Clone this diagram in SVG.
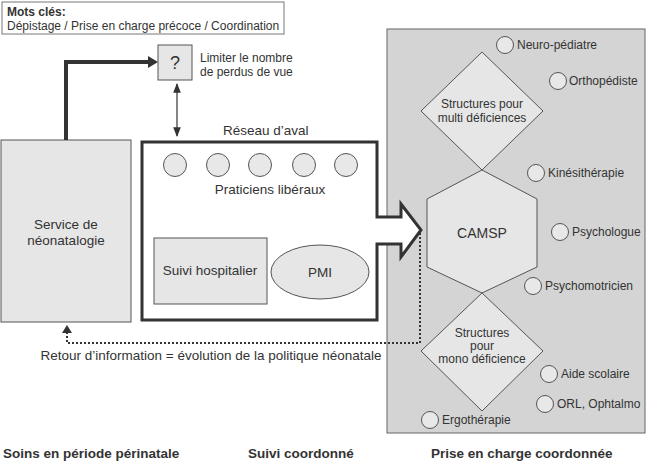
<svg xmlns="http://www.w3.org/2000/svg" width="648" height="463" viewBox="0 0 648 463">
<style>
text{font-family:"Liberation Sans",Arial,sans-serif;fill:#333;font-size:12px}
.c{text-anchor:middle}
.b{font-weight:bold}
.m{font-size:13.5px}
.shape{fill:#e6e6e6;stroke:#555;stroke-width:1}
.circ{fill:#e8e8e8;stroke:#555;stroke-width:1}
</style>
<defs>
<marker id="ahs" viewBox="0 0 10 10" refX="9" refY="5" markerWidth="8" markerHeight="8" orient="auto-start-reverse"><path d="M0,1 L10,5 L0,9 Z" fill="#333"/></marker>
</defs>
<rect x="0" y="0" width="648" height="463" fill="#fff"/>

<g id="keywords">
<rect x="2" y="2" width="282" height="32" fill="#fff" stroke="#777" stroke-width="1"/>
<text x="7" y="16" class="b">Mots clés:</text>
<text x="7" y="30">Dépistage / Prise en charge précoce / Coordination</text>
</g>

<g id="panel">
<rect x="387" y="29" width="258" height="404" fill="#d4d4d4" stroke="#666" stroke-width="1"/>
</g>

<g id="service">
<rect x="1" y="140" width="130" height="182" class="shape" stroke="#777"/>
<text x="66" y="229" class="c m">Service de</text>
<text x="66" y="245" class="c m">néonatalogie</text>
</g>

<g id="question">
<rect x="158" y="45" width="34" height="35" class="shape" stroke="#666"/>
<text x="175" y="69" class="c" style="font-size:18px">?</text>
<text x="200" y="62">Limiter le nombre</text>
<text x="200" y="76">de perdus de vue</text>
</g>

<g id="reseau">
<text x="223" y="135" class="m">Réseau d’aval</text>
<path d="M377,217 H401 V204 L421,230 L401,257 V244 H377 V320 H142 V142 H377 Z" fill="#fff" stroke="#333" stroke-width="3" stroke-linejoin="miter"/>
<circle cx="175" cy="165" r="11.5" class="circ"/>
<circle cx="218" cy="165" r="11.5" class="circ"/>
<circle cx="260" cy="165" r="11.5" class="circ"/>
<circle cx="304" cy="165" r="11.5" class="circ"/>
<circle cx="346" cy="165" r="11.5" class="circ"/>
<text x="270" y="194" class="c m">Praticiens libéraux</text>
</g>

<g id="suivi-hospitalier">
<rect x="154" y="238" width="113" height="66" class="shape"/>
<text x="210" y="275" class="c m">Suivi hospitalier</text>
</g>

<g id="pmi">
<ellipse cx="320" cy="272" rx="49" ry="27" class="shape"/>
<text x="320" y="277" class="c m">PMI</text>
</g>

<g id="multi">
<polygon points="482,52 543,111 482,170 421,111" class="shape"/>
<text x="482" y="108" class="c">Structures pour</text>
<text x="482" y="122" class="c">multi déficiences</text>
</g>

<g id="camsp">
<polygon points="482,170 537,199 537,267 482,293 427,267 427,199" class="shape"/>
<text x="482" y="238" class="c" style="font-size:14px">CAMSP</text>
</g>

<g id="mono">
<polygon points="482,293 543,351 482,411 421,351" class="shape"/>
<text x="482" y="337" class="c">Structures</text>
<text x="482" y="350" class="c">pour</text>
<text x="482" y="363" class="c">mono déficience</text>
</g>

<g id="professionals">
<circle cx="505" cy="45" r="8.5" class="circ"/><text x="517" y="49">Neuro-pédiatre</text>
<circle cx="558" cy="81" r="8.5" class="circ"/><text x="569" y="85">Orthopédiste</text>
<circle cx="536" cy="173" r="8.5" class="circ"/><text x="548" y="177">Kinésithérapie</text>
<circle cx="560" cy="232" r="8.5" class="circ"/><text x="572" y="236">Psychologue</text>
<circle cx="533" cy="286" r="8.5" class="circ"/><text x="545" y="290">Psychomotricien</text>
<circle cx="549" cy="374" r="8.5" class="circ"/><text x="561" y="378">Aide scolaire</text>
<circle cx="545" cy="404" r="8.5" class="circ"/><text x="557" y="408">ORL, Ophtalmo</text>
<circle cx="430" cy="420" r="8.5" class="circ"/><text x="442" y="424">Ergothérapie</text>
</g>

<g id="connectors">
<path d="M66,140 V62 H150" fill="none" stroke="#333" stroke-width="4"/>
<path d="M148,56 L158,62 L148,68 Z" fill="#333"/>
<line x1="177" y1="84" x2="177" y2="136" stroke="#333" stroke-width="1.2" marker-start="url(#ahs)" marker-end="url(#ahs)"/>
<path d="M420,233 V343 H67 V332" fill="none" stroke="#333" stroke-width="2" stroke-dasharray="2,2"/>
<path d="M62,333 L67,325 L72,333 Z" fill="#333"/>
</g>

<g id="labels">
<text x="211" y="360" class="c m">Retour d’information = évolution de la politique néonatale</text>
<text x="3" y="458" class="b m">Soins en période périnatale</text>
<text x="248" y="458" class="b m">Suivi coordonné</text>
<text x="431" y="458" class="b m">Prise en charge coordonnée</text>
</g>
</svg>
